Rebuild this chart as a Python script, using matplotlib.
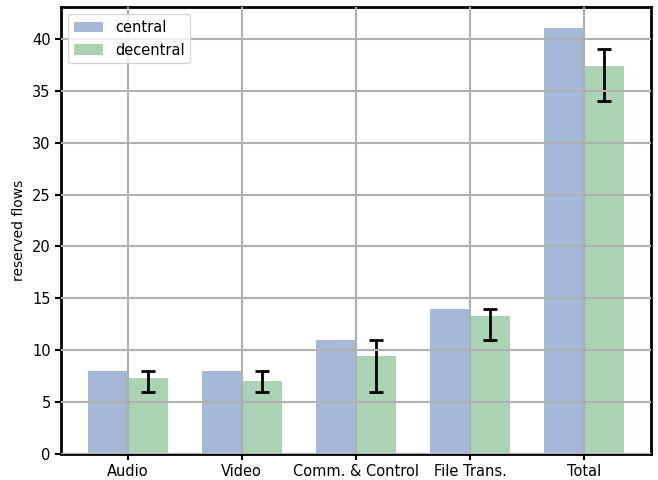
import matplotlib
matplotlib.use("Agg")
import matplotlib.pyplot as plt
import numpy as np

categories = ["Audio", "Video", "Comm. & Control", "File Trans.", "Total"]
central = [8, 8, 11, 14, 41]
decentral = [7.35, 7.05, 9.45, 13.3, 37.35]
decentral_min = [6, 6, 6, 11, 34]
decentral_max = [8, 8, 11, 14, 39]

plt.rcParams["font.size"] = 10.5

x = np.arange(len(categories))
width = 0.35
dec = np.array(decentral)
yerr = [dec - np.array(decentral_min), np.array(decentral_max) - dec]

fig = plt.figure(figsize=(6.58, 4.8), dpi=100)
ax = fig.add_axes([0.0927, 0.054, 0.8963, 0.931])

ax.bar(x - width / 2, central, width, color="#4C72B0", alpha=0.5, label="central")
ax.bar(x + width / 2, decentral, width, color="#55A868", alpha=0.5, label="decentral")
ax.errorbar(x + width / 2, decentral, yerr=yerr, fmt="none", ecolor="black",
            elinewidth=2, capsize=5, capthick=2)

ax.set_xticks(x)
ax.set_xticklabels(categories)
ax.set_ylabel("reserved flows", fontsize=10)
ax.grid(True, color="#b0b0b0", linewidth=1.5)
ax.set_axisbelow(False)
for s in ax.spines.values():
    s.set_linewidth(2)
ax.tick_params(width=1.5, length=4)
ax.legend(loc="upper left", fontsize=10.5)

fig.savefig("out.png", dpi=100)
